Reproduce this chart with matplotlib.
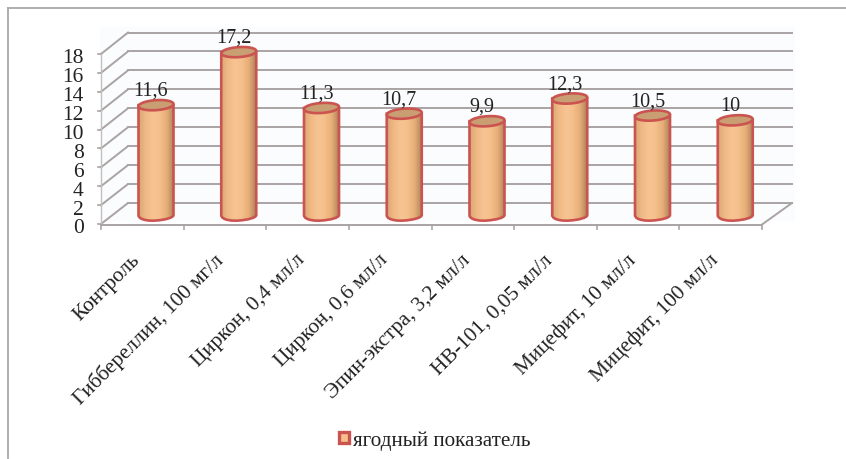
import numpy as np
import matplotlib
matplotlib.use("Agg")
import matplotlib.pyplot as plt
from matplotlib.patches import Rectangle, PathPatch
from matplotlib.path import Path
from matplotlib.colors import LinearSegmentedColormap

categories = ["Контроль", "Гиббереллин, 100 мг/л", "Циркон, 0,4 мл/л", "Циркон, 0,6 мл/л",
              "Эпин-экстра, 3,2 мл/л", "НВ-101, 0,05 мл/л", "Мицефит, 10 мл/л", "Мицефит, 100 мл/л"]
values = [11.6, 17.2, 11.3, 10.7, 9.9, 12.3, 10.5, 10]
value_labels = ["11,6", "17,2", "11,3", "10,7", "9,9", "12,3", "10,5", "10"]
ticks = list(range(0, 19, 2))
series_name = "ягодный показатель"

W, H = 846, 460
X0, DX = 156.0, 82.75   # px of first bar, px per category
Y0, DY = 216.0, 9.47    # px of value 0 at bar centre, px per unit

plt.rcParams['font.family'] = ['Liberation Serif', 'DejaVu Serif']
fig = plt.figure(figsize=(W/100, H/100), dpi=100)
ax = fig.add_axes([0, 0, 1, 1])
ax.set_xlim(-X0/DX, (W-X0)/DX)
ax.set_ylim((Y0-H)/DY, Y0/DY)
ax.axis('off')

def px(x):  # horizontal pixel offset to data units
    return (x-X0)/DX
def vy(y):  # pixel row to data units
    return (Y0-y)/DY

# outer frame
frame = '#a8a8a8'
ax.plot([px(7.5), px(7.5)], [vy(459), vy(8.5)], color=frame, lw=1.3, zorder=1)
ax.plot([px(7.5), px(846)], [vy(8.5), vy(8.5)], color=frame, lw=1.3, zorder=1)

# back wall tint
ax.add_patch(Rectangle((px(100), vy(222)), px(795)-px(100), vy(28)-vy(222), fc='#fafcfd', ec='none', zorder=1))

# gridlines: front-left edge -> back wall
grid = '#aaa3a3'
for t in ticks:
    y_back = vy(204) + t*1.0
    y_front = vy(225) + t*(170/18)/DY
    ax.plot([px(128), px(792)], [y_back, y_back], color=grid, lw=1.4, zorder=2)
    ax.plot([px(101), px(128)], [y_front, y_back], color=grid, lw=1.4, zorder=2)
    ax.plot([px(98), px(101)], [y_front, y_front], color=grid, lw=1.2, zorder=2)
    ax.text(px(83.5), y_front-0.42, str(t), ha='right', va='center', fontsize=15.5, color='#222222', zorder=6)
ax.plot([px(101), px(101)], [vy(225), vy(55)], color='#c4c0c0', lw=1.0, zorder=2)

# floor
ax.plot([px(101), px(762)], [vy(225.5), vy(225.5)], color=grid, lw=1.4, zorder=2)
ax.plot([px(762), px(792)], [vy(225.5), vy(204)], color=grid, lw=1.4, zorder=2)
for i in range(9):
    x = 101 + i*(762-101)/8
    ax.plot([px(x), px(x)], [vy(225.5), vy(230)], color=grid, lw=1.2, zorder=2)

# cylinders
cmap = LinearSegmentedColormap.from_list('cyl', ['#d9a876', '#f0b985', '#f7c492', '#f5bf8b', '#e6ad77', '#ad835a'])
grad = np.linspace(0, 1, 256)[None, :]
bw = 35.0 / DX
eh = 11.0 / DY
edge = '#cb5350'
for i, v in enumerate(values):
    l, r = i - bw/2, i + bw/2
    verts = [(l, v), (l, 0), (l, -eh*0.5-0.03), (i-bw*0.1, -eh*0.55), (i, -eh*0.5), (i+bw*0.25, -eh*0.45), (r, -eh*0.25), (r, 0), (r, v), (l, v)]
    codes = [Path.MOVETO, Path.LINETO, Path.CURVE4, Path.CURVE4, Path.CURVE4, Path.CURVE4, Path.CURVE4, Path.CURVE4, Path.LINETO, Path.CLOSEPOLY]
    body = PathPatch(Path(verts, codes), fc='none', ec=edge, lw=1.9, zorder=4)
    ax.add_patch(body)
    im = ax.imshow(grad, cmap=cmap, extent=(l, r, -eh, v), aspect='auto', zorder=3.5, interpolation='bilinear')
    im.set_clip_path(body)
    # top cap: tilted with right side higher (built in pixel terms)
    t = np.linspace(0, 2*np.pi, 80)
    a = np.radians(4)
    ex, ey = 17.5*np.cos(t), 5.0*np.sin(t)
    rx = ex*np.cos(a) - ey*np.sin(a)
    ry = ex*np.sin(a) + ey*np.cos(a)
    ax.fill(i + rx/DX, v + ry/DY, fc='#c89e72', ec=edge, lw=1.9, zorder=5)
    ax.text(i - 5/DX, v + 0.55, value_labels[i], ha='center', va='bottom', fontsize=14.5, color='#222222', zorder=6)

# category labels
for i, c in enumerate(categories):
    xe = 101 + (i+0.5)*(762-101)/8 - 12
    ax.text(px(xe), vy(251), c, rotation=45, rotation_mode='anchor', ha='right', va='top',
            fontsize=15.3, color='#222222', zorder=6)

# legend
ax.add_patch(Rectangle((px(338.5), vy(444)), px(349)-px(338.5), vy(433)-vy(444), fc='#f5c08a', ec=edge, lw=2.4, zorder=6))
ax.text(px(353), vy(441.5), series_name, ha='left', va='center', fontsize=15.2, color='#222222', zorder=6)

fig.savefig('out.png', dpi=100)
